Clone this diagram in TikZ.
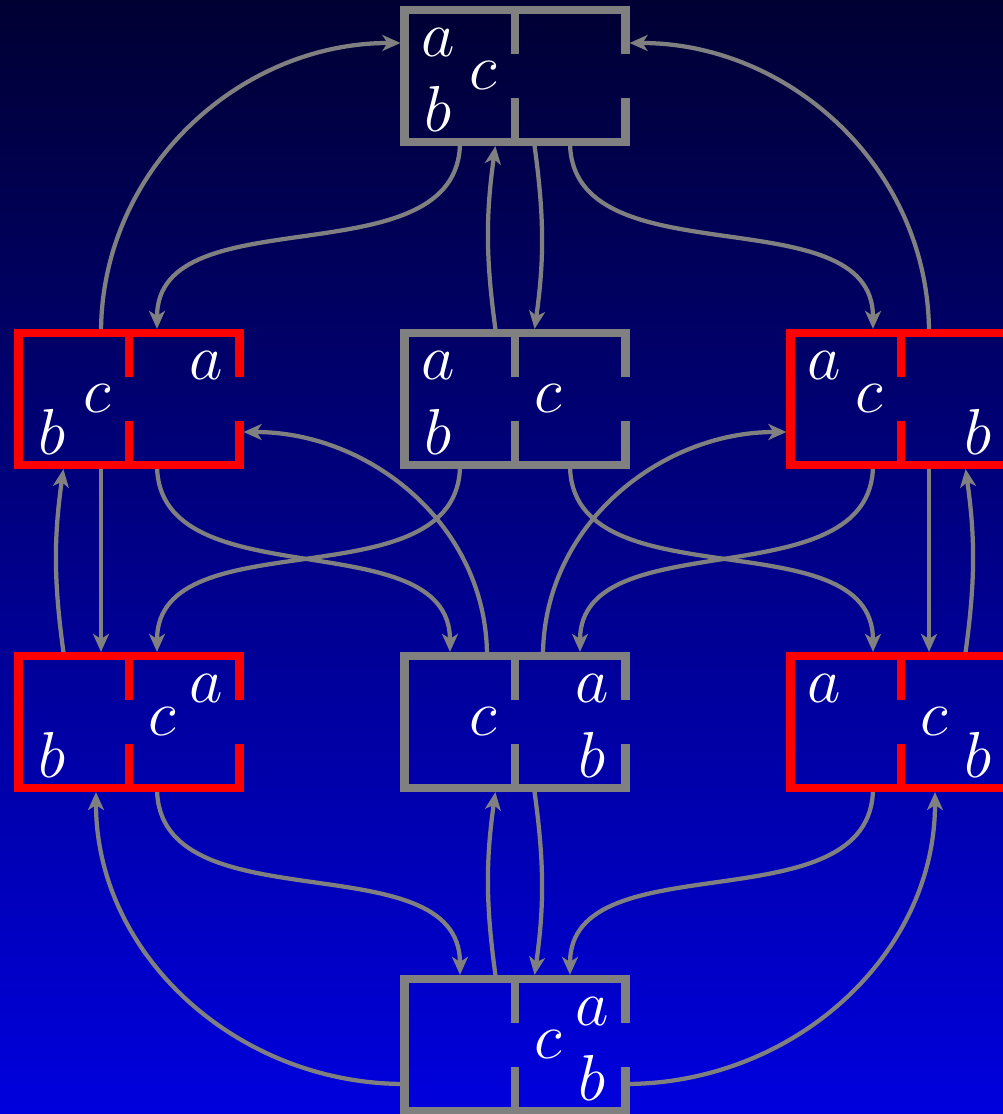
\RequirePackage{fix-cm}
\documentclass[tikz,border=0pt]{standalone}
\usepackage{tikz}
\usetikzlibrary{arrows.meta}

\begin{document}
\begin{tikzpicture}[
  room/.style={rectangle, minimum width=4.4cm, minimum height=2.62cm, inner sep=0pt},
  wall/.style={line width=0.17cm},
  link/.style={draw=gray, line width=0.085cm,
    -{Stealth[length=0.36cm, width=0.32cm, inset=0.1cm]}, shorten >=0.085cm},
  lbl/.style={text=white, inner sep=0pt, font=\fontsize{37}{40}\selectfont}
]

% sfondo
\useasboundingbox (0,0) rectangle (20.06,22.28);
\shade[top color=blue!20!black, bottom color=blue!87!black] (0,0) rectangle (20.06,22.28);
\clip (0,0) rectangle (20.06,22.28);

% stanze
\node[room] (T) at (10.30,20.76) {};
\node[room] (L1) at (2.58,14.30) {};
\node[room] (M1) at (10.30,14.30) {};
\node[room] (R1) at (18.02,14.30) {};
\node[room] (L2) at (2.58,7.84) {};
\node[room] (M2) at (10.30,7.84) {};
\node[room] (R2) at (18.02,7.84) {};
\node[room] (B) at (10.30,1.38) {};

% transizioni
\draw[link] ([xshift=-0.56cm]L1.north) to[out=90, in=180] ([yshift=0.66cm]T.west);
\draw[link] ([xshift=0.56cm]R1.north) to[out=90, in=0] ([yshift=0.66cm]T.east);
\draw[link] ([xshift=-1.1cm]T.south) to[out=-90, in=90] ([xshift=0.56cm]L1.north);
\draw[link] ([xshift=1.1cm]T.south) to[out=-90, in=90] ([xshift=-0.56cm]R1.north);
\draw[link] ([xshift=-0.38cm]M1.north) to[bend left=8] ([xshift=-0.38cm]T.south);
\draw[link] ([xshift=0.38cm]T.south) to[bend left=8] ([xshift=0.38cm]M1.north);

\draw[link] ([xshift=-0.56cm]L1.south) -- ([xshift=-0.56cm]L2.north);
\draw[link] ([xshift=-1.3cm]L2.north) to[bend left=8] ([xshift=-1.3cm]L1.south);
\draw[link] ([xshift=0.56cm]L1.south) to[out=-90, in=90] ([xshift=-1.3cm]M2.north);
\draw[link] ([xshift=-1.1cm]M1.south) to[out=-90, in=90] ([xshift=0.56cm]L2.north);
\draw[link] ([xshift=1.1cm]M1.south) to[out=-90, in=90] ([xshift=-0.56cm]R2.north);
\draw[link] ([xshift=-0.56cm]R1.south) to[out=-90, in=90] ([xshift=1.3cm]M2.north);
\draw[link] ([xshift=-0.56cm]M2.north) to[out=90, in=0] ([yshift=-0.66cm]L1.east);
\draw[link] ([xshift=0.56cm]M2.north) to[out=90, in=180] ([yshift=-0.66cm]R1.west);
\draw[link] ([xshift=0.56cm]R1.south) -- ([xshift=0.56cm]R2.north);
\draw[link] ([xshift=1.28cm]R2.north) to[bend right=8] ([xshift=1.28cm]R1.south);

\draw[link] ([xshift=0.56cm]L2.south) to[out=-90, in=90] ([xshift=-1.1cm]B.north);
\draw[link] ([xshift=-0.56cm]R2.south) to[out=-90, in=90] ([xshift=1.1cm]B.north);
\draw[link] ([xshift=-0.38cm]B.north) to[bend left=8] ([xshift=-0.38cm]M2.south);
\draw[link] ([xshift=0.38cm]M2.south) to[bend left=8] ([xshift=0.38cm]B.north);
\draw[link] ([yshift=-0.78cm]B.west) to[out=180, in=-90] ([xshift=-0.66cm]L2.south);
\draw[link] ([yshift=-0.78cm]B.east) to[out=0, in=-90] ([xshift=0.68cm]R2.south);

% muri con le porte
\foreach \n/\col in {T/gray, L1/red, M1/gray, R1/red, L2/red, M2/gray, R2/red, B/gray} {
  \draw[wall, \col] ([yshift=-0.873cm]\n.north east) -- (\n.north east) -- (\n.north west)
    -- (\n.south west) -- (\n.south east) -- ([yshift=0.873cm]\n.south east);
  \draw[wall, \col] (\n.north) -- ++(0,-0.873) (\n.south) -- ++(0,0.873);
}

% contenuto delle stanze
\foreach \n/\l/\dx/\dy in {T/a/-1.54/0.66, T/c/-0.64/0, T/b/-1.54/-0.66,
    L1/a/1.54/0.66, L1/c/-0.64/0, L1/b/-1.54/-0.66,
    M1/a/-1.54/0.66, M1/c/0.66/0, M1/b/-1.54/-0.66,
    R1/a/-1.54/0.66, R1/c/-0.64/0, R1/b/1.54/-0.66,
    L2/a/1.54/0.66, L2/c/0.66/0, L2/b/-1.54/-0.66,
    M2/a/1.54/0.66, M2/c/-0.64/0, M2/b/1.54/-0.66,
    R2/a/-1.54/0.66, R2/c/0.66/0, R2/b/1.54/-0.66,
    B/a/1.54/0.66, B/c/0.66/0, B/b/1.54/-0.66}
  \node[lbl] (\n\l) at ([shift={(\dx,\dy)}]\n.center) {$\l$};

\end{tikzpicture}
\end{document}
